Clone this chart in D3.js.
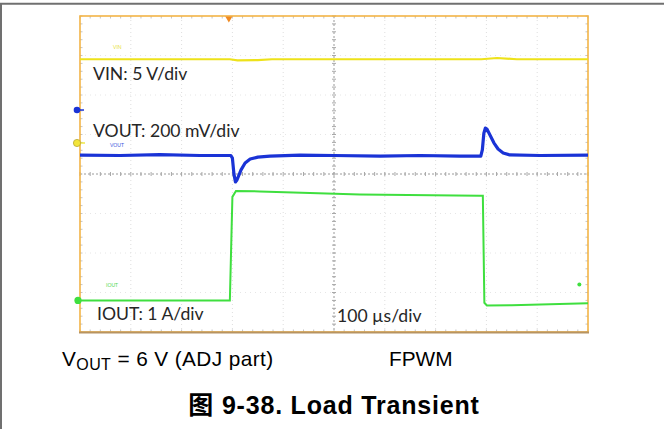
<!DOCTYPE html>
<html><head><meta charset="utf-8">
<script src="https://cdn.jsdelivr.net/npm/d3@7"></script>
<style>html,body{margin:0;padding:0;background:#fff;}svg{display:block;}</style>
</head><body>
<svg id="c" width="664" height="429"></svg>
<script>
// ---- data (time in µs, 100 µs/div) ----
const vinTime = [-500, -205, -190, -150, -122, 290, 321, 360, 500];
const vinVolts = [10.6, 10.6, 10.47, 10.49, 10.6, 10.6, 10.76, 10.6, 10.6];

const voutTime = [-500, -421, -343, -264, -203, -200, -197, -194, -191, -183, -175, -165, -150, -126, -67, 0, 91, 169, 248, 289, 292, 295, 298, 301, 307, 315, 323, 333, 346, 406, 500];
const voutMv   = [2, 0, 5, 0, 0, -13, -93, -134, -124, -73, -38, -18, -8, -3, 2, 0, -3, 0, -3, -3, 28, 113, 139, 134, 104, 63, 33, 13, 3, 0, 2];

const ioutTime = [-500, -205, -200, -193, -146, 51, 287, 293, 296, 301, 350, 500];
const ioutAmps = [0, 0, 2.62, 2.77, 2.76, 2.68, 2.65, 2.65, -0.06, -0.13, -0.12, -0.07];

const labels = ["VIN: 5 V/div", "VOUT: 200 mV/div", "IOUT: 1 A/div", "100 µs/div"];
const noteLeft = "= 6 V (ADJ part)";
const noteRight = "FPWM";
const title = "图 9-38. Load Transient";

// ---- layout ----
const svg = d3.select("#c");
const X0 = 80, X1 = 588, Y0 = 16, Y1 = 332;
const x = d3.scaleLinear().domain([-500, 500]).range([X0, X1]);
const yDiv = d3.scaleLinear().domain([-4, 4]).range([Y1, Y0]);

const chVin = {pos: 0.785, per: 5};
const chVout = {pos: 0.468, per: 200};
const chIout = {pos: -3.2, per: 1};
const yCh = (ch) => (v) => yDiv(ch.pos + v / ch.per);

// figure frame
svg.append("line").attr("x1", 0).attr("x2", 664).attr("y1", 3.8).attr("y2", 3.8).attr("stroke", "#707070").attr("stroke-width", 2);
svg.append("line").attr("x1", 1).attr("x2", 1).attr("y1", 3).attr("y2", 429).attr("stroke", "#707070").attr("stroke-width", 2);

// grid
const g = svg.append("g");
const xDivs = d3.range(-5, 6).map(d => d * 100);
const yDivs = d3.range(-4, 5);
xDivs.forEach(t => {
  if (t === 0 || Math.abs(t) === 500) return;
  g.append("line").attr("x1", x(t)).attr("x2", x(t)).attr("y1", Y0).attr("y2", Y1)
    .attr("stroke", "#dedede").attr("stroke-width", 1).attr("stroke-dasharray", "1,3");
});
yDivs.forEach(d => {
  if (d === 0 || Math.abs(d) === 4) return;
  g.append("line").attr("x1", X0).attr("x2", X1).attr("y1", yDiv(d)).attr("y2", yDiv(d))
    .attr("stroke", "#e6e6e6").attr("stroke-width", 1).attr("stroke-dasharray", "1,4");
});
g.append("line").attr("x1", x(0)).attr("x2", x(0)).attr("y1", Y0).attr("y2", Y1)
  .attr("stroke", "#9a9a9a").attr("stroke-width", 1).attr("stroke-dasharray", "2,2");
g.append("line").attr("x1", X0).attr("x2", X1).attr("y1", yDiv(0)).attr("y2", yDiv(0))
  .attr("stroke", "#9a9a9a").attr("stroke-width", 1).attr("stroke-dasharray", "2,2");
const xMinor = d3.range(-500, 501, 20);
const yMinor = d3.range(-4, 4.01, 0.2);
xMinor.forEach(t => {
  g.append("line").attr("x1", x(t)).attr("x2", x(t)).attr("y1", yDiv(0) - 2).attr("y2", yDiv(0) + 2).attr("stroke", "#a8a8a8");
  g.append("line").attr("x1", x(t)).attr("x2", x(t)).attr("y1", Y0).attr("y2", Y0 + 2.5).attr("stroke", "#c4c4c4");
  g.append("line").attr("x1", x(t)).attr("x2", x(t)).attr("y1", Y1 - 2.5).attr("y2", Y1).attr("stroke", "#c4c4c4");
});
yMinor.forEach(d => {
  g.append("line").attr("x1", x(0) - 2).attr("x2", x(0) + 2).attr("y1", yDiv(d)).attr("y2", yDiv(d)).attr("stroke", "#a8a8a8");
  g.append("line").attr("x1", X0).attr("x2", X0 + 2.5).attr("y1", yDiv(d)).attr("y2", yDiv(d)).attr("stroke", "#c4c4c4");
  g.append("line").attr("x1", X1 - 2.5).attr("x2", X1).attr("y1", yDiv(d)).attr("y2", yDiv(d)).attr("stroke", "#c4c4c4");
});

// border
svg.append("rect").attr("x", X0).attr("y", Y0).attr("width", X1 - X0).attr("height", Y1 - Y0)
  .attr("fill", "none").attr("stroke", "#f3b446").attr("stroke-width", 1.6);
svg.append("line").attr("x1", X0 - 1).attr("x2", X1 + 1).attr("y1", Y1 + 0.5).attr("y2", Y1 + 0.5)
  .attr("stroke", "#b79462").attr("stroke-width", 2.2);

// traces
const line = (ch) => d3.line().x(d => x(d[0])).y(d => yCh(ch)(d[1]));
svg.append("path").datum(d3.zip(vinTime, vinVolts)).attr("d", line(chVin))
  .attr("fill", "none").attr("stroke", "#eee21a").attr("stroke-width", 2.2);
svg.append("path").datum(d3.zip(ioutTime, ioutAmps)).attr("d", line(chIout))
  .attr("fill", "none").attr("stroke", "#3fdf3f").attr("stroke-width", 2);
svg.append("path").datum(d3.zip(voutTime, voutMv)).attr("d", line(chVout))
  .attr("fill", "none").attr("stroke", "#1a33d6").attr("stroke-width", 3.2).attr("stroke-linejoin", "round");

// channel markers
svg.append("path").attr("d", d3.symbol(d3.symbolTriangle, 22)()).attr("transform", `translate(${x(-207)},${Y0 + 2.5}) rotate(180)`).attr("fill", "#f08a20");
svg.append("circle").attr("cx", X0 - 3).attr("cy", yDiv(1.62)).attr("r", 3.3).attr("fill", "#1a33d6");
svg.append("line").attr("x1", X0).attr("x2", X0 + 4).attr("y1", yDiv(1.62)).attr("y2", yDiv(1.62)).attr("stroke", "#1a33d6").attr("stroke-width", 1.5);
svg.append("circle").attr("cx", X0 - 3).attr("cy", yDiv(chVin.pos)).attr("r", 3.6).attr("fill", "#f2e43a").attr("stroke", "#b8a830").attr("stroke-width", 0.8);
svg.append("line").attr("x1", X0 + 1).attr("x2", X0 + 5).attr("y1", yDiv(chVin.pos)).attr("y2", yDiv(chVin.pos)).attr("stroke", "#ece31c").attr("stroke-width", 1.2);
svg.append("circle").attr("cx", X0 - 2).attr("cy", yCh(chIout)(0)).attr("r", 3.6).attr("fill", "#3fdf3f");
svg.append("circle").attr("cx", x(483)).attr("cy", yDiv(-2.8)).attr("r", 2).attr("fill", "#3fdf3f");

// tiny channel tags
svg.append("text").attr("x", 113).attr("y", 49).attr("font-family", "Lato").attr("font-size", 5).attr("fill", "#e8df3a").text("VIN");
svg.append("text").attr("x", 110).attr("y", 146.5).attr("font-family", "Lato").attr("font-size", 5).attr("fill", "#3a55e0").text("VOUT");
svg.append("text").attr("x", 106).attr("y", 287).attr("font-family", "Lato").attr("font-size", 5).attr("fill", "#56d856").text("IOUT");

// scope labels
const lab = svg.append("g").attr("font-family", "Lato").attr("font-size", 17.6).attr("fill", "#262626");
lab.append("text").attr("x", 93).attr("y", 80).text(labels[0]);
lab.append("text").attr("x", 93).attr("y", 136.5).text(labels[1]);
lab.append("text").attr("x", 97).attr("y", 320).text(labels[2]);
lab.append("text").attr("x", 337).attr("y", 322).text(labels[3]);

// notes below chart
const notes = svg.append("g").attr("font-family", "Liberation Sans, Arial").attr("font-size", 20.8).attr("fill", "#000");
const t1 = notes.append("text").attr("x", 62).attr("y", 366).attr("letter-spacing", 0.4);
t1.append("tspan").text("V");
t1.append("tspan").attr("font-size", 16).attr("dy", 4).text("OUT");
t1.append("tspan").attr("dy", -4).text(" " + noteLeft);
notes.append("text").attr("x", 389).attr("y", 366).text(noteRight);

svg.append("text").attr("x", 334).attr("y", 414).attr("text-anchor", "middle")
  .attr("font-family", "Liberation Sans, Noto Sans CJK SC").attr("font-weight", "bold").attr("font-size", 25)
  .attr("letter-spacing", 0.8)
  .attr("fill", "#000").text(title);
</script>
</body></html>
